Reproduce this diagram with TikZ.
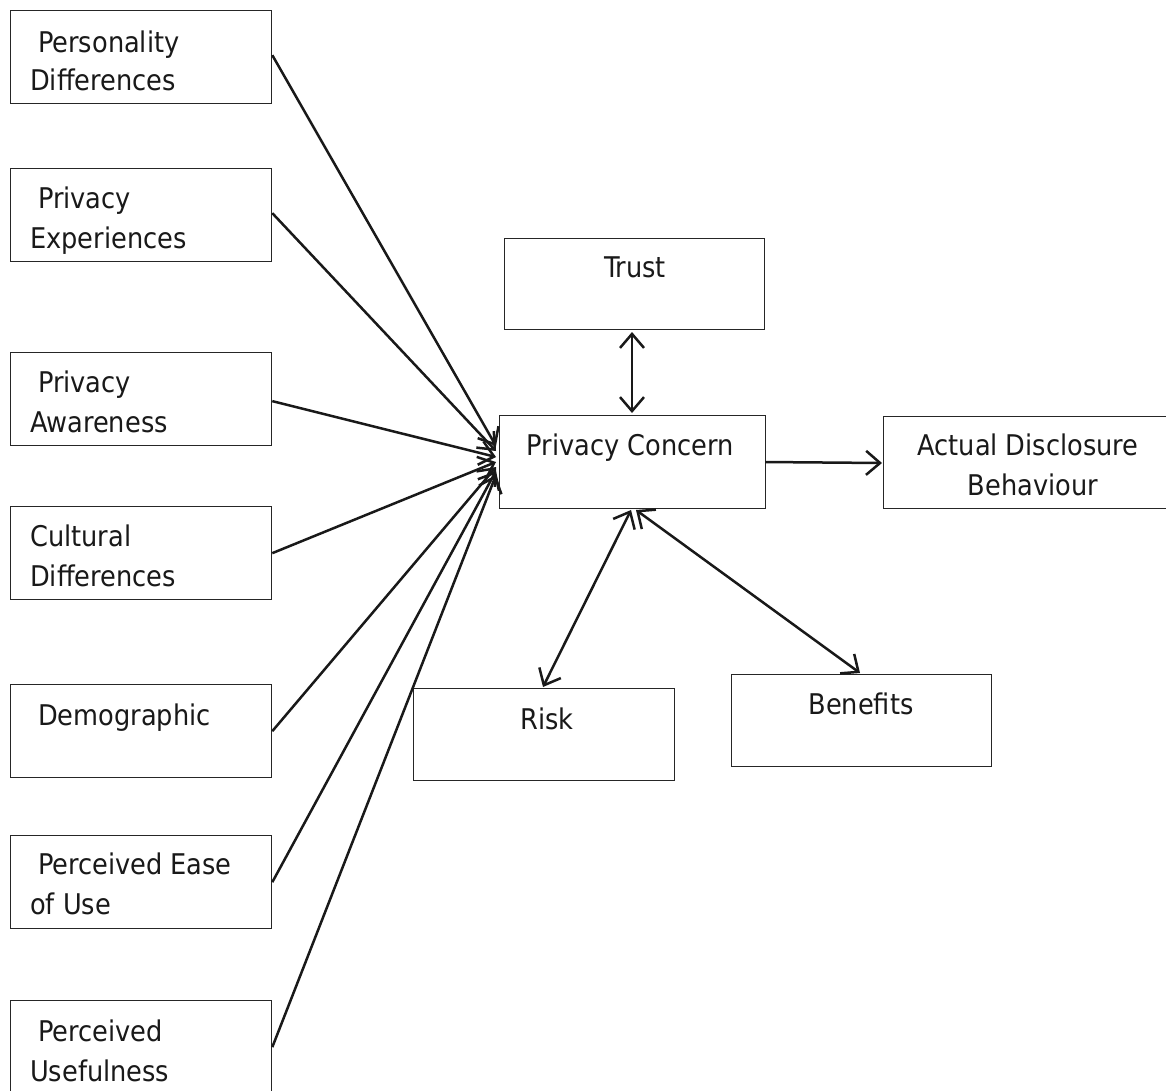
\documentclass[tikz,border=0pt]{standalone}
\usepackage{fontspec}
\setmainfont{DejaVu Sans Condensed}
\usetikzlibrary{arrows.meta}
\begin{document}
\begin{tikzpicture}[x=1pt,y=-1pt,
  box/.style={draw=black!85, line width=1.3pt, anchor=north west, inner sep=0pt, minimum width=261pt, minimum height=93pt},
  lbl/.style={anchor=base west, inner sep=0pt, text=black!90, font=\fontsize{28.5}{28.5}\selectfont},
  clbl/.style={anchor=base, inner sep=0pt, text=black!90, font=\fontsize{28.5}{28.5}\selectfont},
  conn/.style={line width=2.5pt, draw=black!90},
  >={Straight Barb[length=14pt,width=24pt]}]
\useasboundingbox (0,0) rectangle (1166,1090);
\fill[white] (0,0) rectangle (1166,1090);
% left boxes
\node[box] (pd) at (10,10) {};
\node[box] (pe) at (10,168) {};
\node[box] (pa) at (10,352) {};
\node[box] (cd) at (10,506) {};
\node[box] (dm) at (10,684) {};
\node[box] (pu) at (10,835) {};
\node[box] (pf) at (10,1000) {};
\node[lbl] (t1a) at (38,52) {Personality};
\node[lbl] (t1b) at (30,90) {Differences};
\node[lbl] (t2a) at (38,208) {Privacy};
\node[lbl] (t2b) at (30,248) {Experiences};
\node[lbl] (t3a) at (38,392) {Privacy};
\node[lbl] (t3b) at (30,432) {Awareness};
\node[lbl] (t4a) at (30,546) {Cultural};
\node[lbl] (t4b) at (30,586) {Differences};
\node[lbl] (t5a) at (38,725) {Demographic};
\node[lbl] (t6a) at (38,874) {Perceived Ease};
\node[lbl] (t6b) at (30,914) {of Use};
\node[lbl] (t7a) at (38,1041) {Perceived};
\node[lbl] (t7b) at (30,1081) {Usefulness};
% right boxes
\node[box, minimum width=260pt, minimum height=91pt] (tr) at (504,238) {};
\node[box, minimum width=266pt, minimum height=93pt] (pc) at (499,415) {};
\node[box, minimum width=310pt, minimum height=92pt] (ad) at (883,416) {};
\node[box, minimum width=261pt, minimum height=92pt] (rk) at (413,688) {};
\node[box, minimum width=260pt, minimum height=92pt] (bf) at (731,674) {};
\node[clbl] (ttr) at (635,277) {Trust};
\node[clbl] (tpc) at (630,455) {Privacy Concern};
\node[clbl] (tad1) at (1028,455) {Actual Disclosure};
\node[clbl] (tad2) at (1033,495) {Behaviour};
\node[clbl] (trk) at (547,729) {Risk};
\node[clbl] (tbf) at (861,714) {Benefits};
% convergence points
\coordinate (e1) at (496,446);
\coordinate (e2) at (496,451);
\coordinate (e3) at (496,457);
\coordinate (e4) at (496,462);
\coordinate (e5) at (496,467);
\coordinate (e6) at (496,471);
\coordinate (e7) at (496,475);
\draw[conn,->] (pd.east) ++(0,-2) -- (e1);
\draw[conn,->] (pe.east) ++(0,-2) -- (e2);
\draw[conn,->] (pa.east) ++(0,2) -- (e3);
\draw[conn,->] (cd.east) -- (e4);
\draw[conn,->] (dm.east) -- (e5);
\draw[conn,->] (pu.east) -- (e6);
\draw[conn,->] (pf.east) -- (e7);
% other connectors
\coordinate (c1) at (632,332);
\coordinate (c2) at (632,413);
\draw[conn,<->] (c1) -- (c2);
\coordinate (c3) at (765,462);
\coordinate (c4) at (882,463);
\draw[conn,->] (c3) -- (c4);
\coordinate (c5) at (631,510);
\coordinate (c6) at (543,687);
\draw[conn,<->] (c5) -- (c6);
\coordinate (c7) at (636,510);
\coordinate (c8) at (860,673);
\draw[conn,<->] (c7) -- (c8);
\end{tikzpicture}
\end{document}
